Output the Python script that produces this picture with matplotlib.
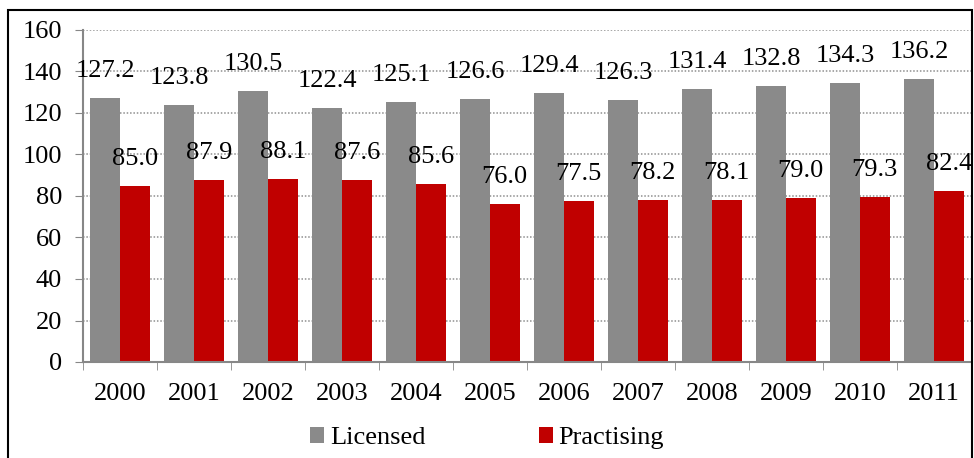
import numpy as np
import matplotlib
matplotlib.use("Agg")
from matplotlib import pyplot as plt
from matplotlib.patches import Rectangle

years = ["2000", "2001", "2002", "2003", "2004", "2005",
         "2006", "2007", "2008", "2009", "2010", "2011"]
licensed = [127.2, 123.8, 130.5, 122.4, 125.1, 126.6,
            129.4, 126.3, 131.4, 132.8, 134.3, 136.2]
practising = [85.0, 87.9, 88.1, 87.6, 85.6, 76.0,
              77.5, 78.2, 78.1, 79.0, 79.3, 82.4]

plt.rcParams['font.family'] = ['Liberation Serif', 'DejaVu Serif']

fig = plt.figure(figsize=(9.74, 4.58), dpi=100)
ax = fig.add_axes([83 / 974, 1 - 362 / 458, 888 / 974, 332 / 458])

x = np.arange(len(years))
w = 0.4
b1 = ax.bar(x - w / 2, licensed, w, color="#8a8a8a", label="Licensed", zorder=2)
b2 = ax.bar(x + w / 2, practising, w, color="#C00000", label="Practising", zorder=2)

# data labels sit well above the bars
for bars, vals in ((b1, licensed), (b2, practising)):
    for r, v in zip(bars, vals):
        ax.annotate("%.1f" % v, (r.get_x() + r.get_width() / 2, v),
                    xytext=(0, 27), textcoords="offset pixels",
                    ha="center", va="center", fontsize=19, zorder=3)

ax.set_xlim(-0.5, len(years) - 0.5)
ax.set_ylim(0, 160)
ax.set_yticks(range(0, 161, 20))
ax.set_xticks(x)
ax.set_xticklabels(years)
ax.set_xticks(np.arange(-0.5, len(years)), minor=True)
ax.tick_params(axis="x", which="major", length=0, labelsize=19, pad=15)
ax.tick_params(axis="x", which="minor", length=6, color="#878787", direction="out")
ax.tick_params(axis="y", length=6, color="#878787", labelsize=19, pad=9)

ax.yaxis.grid(True, linestyle=(0, (1, 1.2)), color="#8f8f8f", linewidth=1.1, zorder=0)
ax.set_axisbelow(True)
for s in ("top", "right"):
    ax.spines[s].set_visible(False)
for s in ("left", "bottom"):
    ax.spines[s].set_color("#878787")
    ax.spines[s].set_linewidth(1.5)

fig.legend(loc="center", bbox_to_anchor=(487 / 974, 1 - 438 / 458), ncol=2,
           frameon=False, fontsize=19, handlelength=0.55, handleheight=0.55,
           handletextpad=0.2, columnspacing=4.3, borderaxespad=0)

fig.patches.append(Rectangle((8 / 974, -0.01), 964 / 974, 1 - 10 / 458 + 0.01,
                             transform=fig.transFigure, fill=False,
                             edgecolor="black", linewidth=1.5))

fig.savefig("out.png", dpi=100)
